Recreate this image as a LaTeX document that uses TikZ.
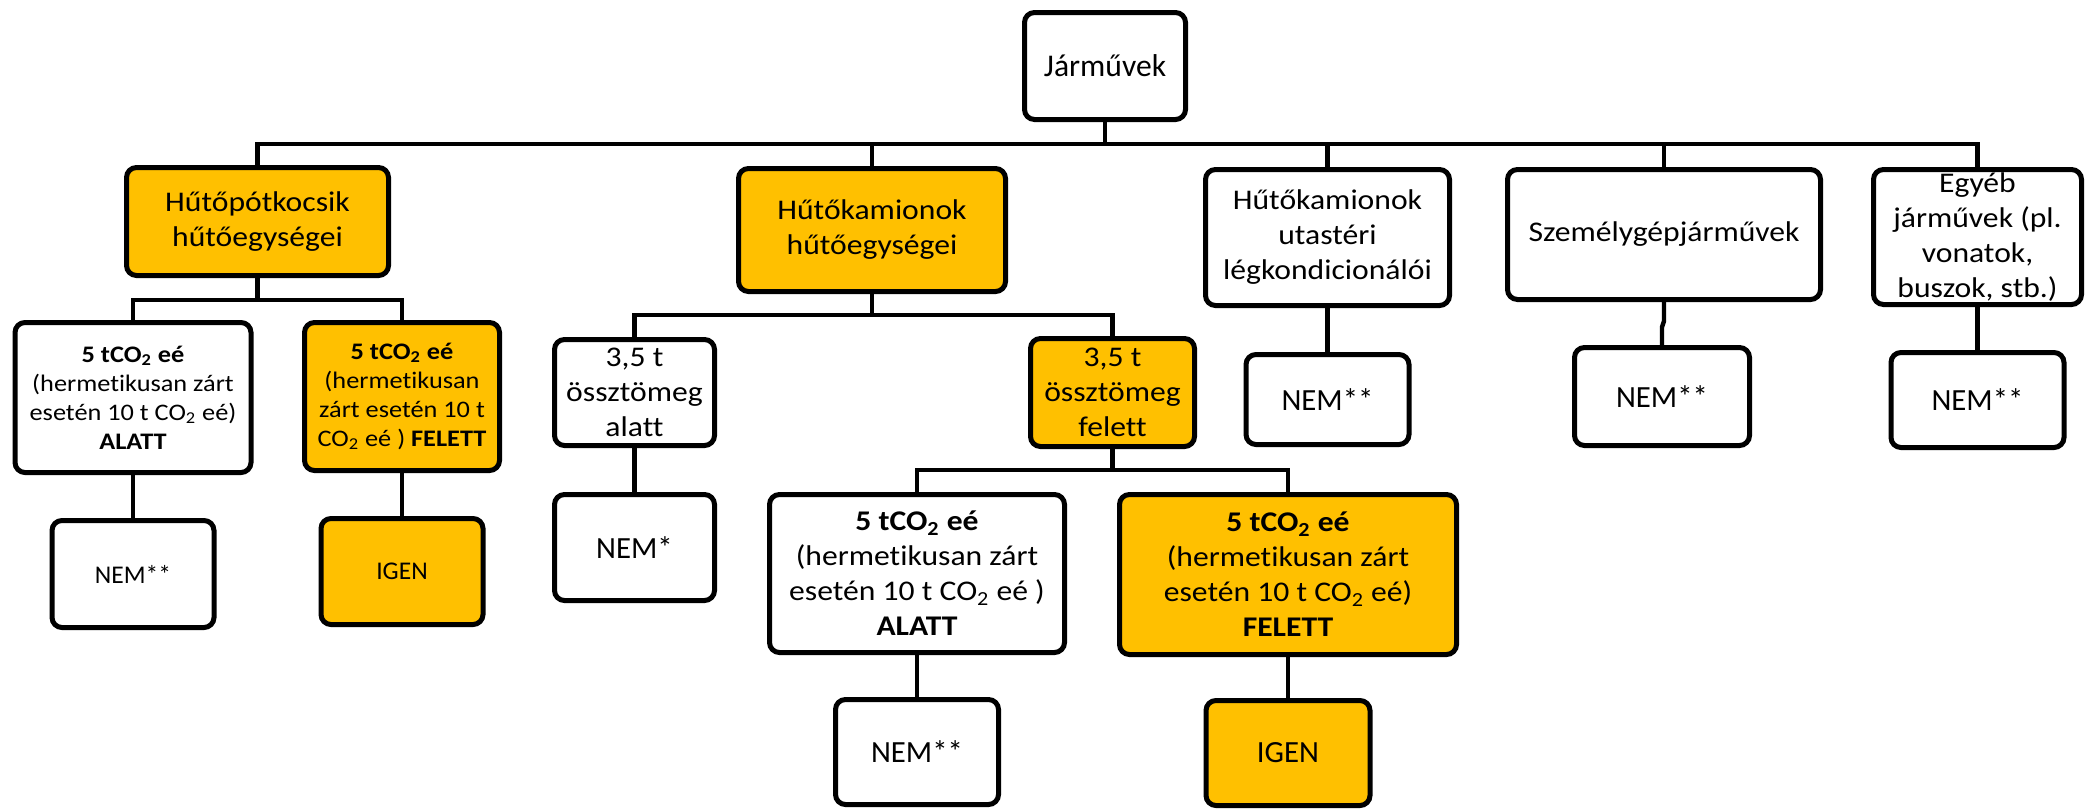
\documentclass[tikz,border=0pt]{standalone}
\usepackage{fontspec}
\setmainfont[Ligatures=NoCommon]{Carlito}
\newfontfamily\strfont[FakeStretch=1.11,Ligatures=NoCommon]{Carlito}
\definecolor{gold}{HTML}{FFC000}
\begin{document}
\begin{tikzpicture}[x=0.5pt,y=-0.5pt,
  box/.style={draw=black, line width=2.5pt, rounded corners=5pt, align=center, inner sep=0pt, fill=white},
  ybox/.style={box, fill=gold},
  conn/.style={draw=black, line width=2.2pt},
  fbig/.style={font=\strfont\fontsize{14.25}{17.5}\selectfont},
  fsmall/.style={font=\strfont\fontsize{11.85}{14.5}\selectfont},
  froot/.style={font=\fontsize{15.8}{19}\selectfont},
  fnemr/.style={font=\fontsize{15.4}{18.5}\selectfont},
  fneml/.style={font=\fontsize{12.75}{15.5}\selectfont},
]
\useasboundingbox (0,0) rectangle (2089,809);

% level 0
\node[box, froot, minimum width=80.5pt, minimum height=53.5pt] (root) at (1105,66) {Járművek};

% level 1
\node[ybox, fbig, minimum width=131pt, minimum height=54pt] (L1a) at (257.5,221.5) {Hűtőpótkocsik\\hűtőegységei};
\node[ybox, fbig, minimum width=133.5pt, minimum height=61.5pt] (L1b) at (872,230) {Hűtőkamionok\\hűtőegységei};
\node[box, fbig, minimum width=122pt, minimum height=68pt] (L1c) at (1327.5,237.5) {Hűtőkamionok\\utastéri\\légkondicionálói};
\node[box, fbig, minimum width=156.5pt, minimum height=65pt] (L1d) at (1664,234.5) {Személygépjárművek};
\node[box, fbig, minimum width=104pt, minimum height=67.5pt] (L1e) at (1977.5,237) {Egyéb\\járművek (pl.\\vonatok,\\buszok, stb.)};

% under L1a
\node[box, fsmall, minimum width=118pt, minimum height=75pt] (A) at (133,397.5) {\textbf{5 tCO\textsubscript{2} eé}\\(hermetikusan zárt\\esetén 10 t CO\textsubscript{2} eé)\\\textbf{ALATT}};
\node[ybox, fsmall, minimum width=97.5pt, minimum height=74pt] (B) at (402,396.5) {\textbf{5 tCO\textsubscript{2} eé}\\(hermetikusan\\zárt esetén 10 t\\CO\textsubscript{2} eé ) \textbf{FELETT}};
\node[box, fneml, minimum width=81pt, minimum height=53.5pt] (NEMa) at (133,574) {NEM**};
\node[ybox, fneml, minimum width=81pt, minimum height=53pt] (IGENb) at (402,571.5) {IGEN};

% under L1b
\node[box, fbig, minimum width=80pt, minimum height=53pt] (alatt) at (634.5,392.5) {3,5 t\\össztömeg\\alatt};
\node[ybox, fbig, minimum width=82pt, minimum height=54pt] (felett) at (1112.5,392.5) {3,5 t\\össztömeg\\felett};
\node[box, fnemr, minimum width=80pt, minimum height=53pt] (NEMs) at (634.5,547.5) {NEM*};
\node[box, fbig, minimum width=147.5pt, minimum height=79pt] (C) at (917,573.5) {\textbf{5 tCO\textsubscript{2} eé}\\(hermetikusan zárt\\esetén 10 t CO\textsubscript{2} eé )\\\textbf{ALATT}};
\node[ybox, fbig, minimum width=168.5pt, minimum height=80pt] (D) at (1288,574.5) {\textbf{5 tCO\textsubscript{2} eé}\\(hermetikusan zárt\\esetén 10 t CO\textsubscript{2} eé)\\\textbf{FELETT}};
\node[box, fnemr, minimum width=81.5pt, minimum height=52.5pt] (NEMc) at (917,752) {NEM**};
\node[ybox, fnemr, minimum width=82pt, minimum height=52.5pt] (IGENd) at (1288,753) {IGEN};

% under L1c, L1d, L1e
\node[box, fnemr, minimum width=81.5pt, minimum height=45pt] (NEMu) at (1327.5,399.5) {NEM**};
\node[box, fnemr, minimum width=87.5pt, minimum height=49pt] (NEMz) at (1662,396.5) {NEM**};
\node[box, fnemr, minimum width=86.5pt, minimum height=47.5pt] (NEMe) at (1977.5,400) {NEM**};

% connectors
\coordinate (b0) at (1105,144);
\draw[conn] (root.south) -- (b0);
\draw[conn] (L1a.north) |- (b0);
\draw[conn] (L1e.north) |- (b0);
\draw[conn] (L1b.north) -- (L1b.north |- b0);
\draw[conn] (L1c.north) -- (L1c.north |- b0);
\draw[conn] (L1d.north) -- (L1d.north |- b0);

\coordinate (b1) at (257.5,300);
\draw[conn] (L1a.south) -- (b1);
\draw[conn] (A.north) |- (b1);
\draw[conn] (B.north) |- (b1);
\draw[conn] (A.south) -- (NEMa.north);
\draw[conn] (B.south) -- (IGENb.north);

\coordinate (b2) at (872,315);
\draw[conn] (L1b.south) -- (b2);
\draw[conn] (alatt.north) |- (b2);
\draw[conn] (felett.north) |- (b2);
\draw[conn] (alatt.south) -- (NEMs.north);

\coordinate (b3) at (1112.5,470);
\draw[conn] (felett.south) -- (b3);
\draw[conn] (C.north) |- (b3);
\draw[conn] (D.north) |- (b3);
\draw[conn] (C.south) -- (NEMc.north);
\draw[conn] (D.south) -- (IGENd.north);

\draw[conn] (L1c.south) -- (NEMu.north);
\draw[conn] (L1d.south) -- (1664,321) -- (1662,327) -- (NEMz.north);
\draw[conn] (L1e.south) -- (NEMe.north);
\end{tikzpicture}
\end{document}
